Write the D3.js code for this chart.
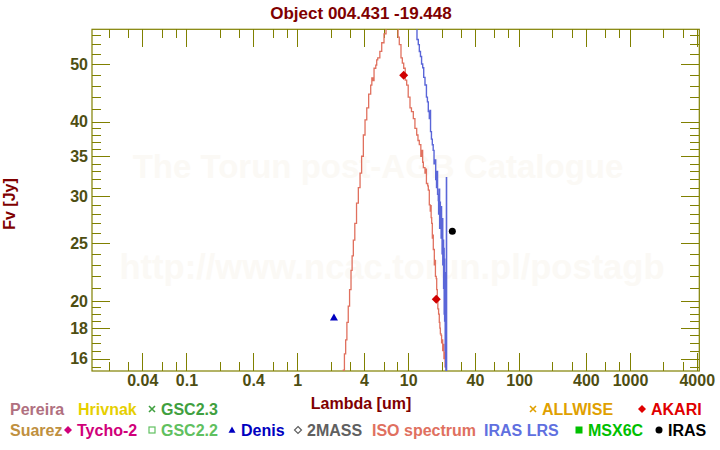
<!DOCTYPE html>
<html>
<head>
<meta charset="utf-8">
<script src="https://cdn.jsdelivr.net/npm/d3@7"></script>
<style>
  body { margin: 0; background: #fff; }
  svg { display: block; font-family: "Liberation Sans", Arial, sans-serif; font-weight: bold; }
</style>
</head>
<body>
<svg id="chart" width="720" height="450"></svg>
<script>
// ---- data ----
const title = "Object 004.431 -19.448";

// ISO spectrum (wavelength um, flux Jy)
const isoWave = [2.50, 2.60, 2.66, 2.73, 2.80, 2.88, 2.96, 3.05, 3.12, 3.20, 3.30, 3.42, 3.55, 3.68, 3.80,
  3.94, 4.08, 4.23, 4.40, 4.59, 4.70, 4.80, 4.92, 5.10, 5.20, 5.31, 5.55, 5.77, 6.05, 6.31, 6.6, 6.9, 7.2, 7.5,
  7.88, 8.1, 8.31, 8.61, 8.85, 9.11, 9.4, 9.69, 10.0, 10.38, 10.7, 11.12, 11.5, 11.93, 12.25, 12.59, 13.0,
  13.2, 13.5, 13.7, 14.17, 14.4, 14.6, 15.0, 15.18, 15.5, 15.8, 16.0, 16.1, 16.29, 16.5, 16.7, 16.84, 17.2,
  17.4, 17.6, 17.9, 18.07, 18.3, 18.5, 18.8, 19.07, 19.3, 19.5, 19.8, 20.0, 20.2, 20.47, 20.8, 21.0, 21.3,
  21.5, 21.8, 22.0, 22.5, 23.0];
const isoFlux = [14.5, 15.3, 16.3, 17.2, 18.4, 19.6, 20.9, 22.5, 23.8, 25.3, 27.0, 29.2, 31.0, 32.8, 35.0,
  38.0, 40.3, 42.2, 44.5, 46.1, 47.4, 46.9, 49.2, 49.8, 50.8, 51.2, 52.5, 54.3, 56.2, 57.8, 58.5, 57.6, 58.8, 57.4,
  57.8, 55.5, 53.9, 51.2, 50.2, 49.2, 47.0, 46.1, 44.0, 42.2, 41.6, 40.5, 39.0, 38.0, 37.2, 36.6, 35.0,
  35.8, 34.2, 33.5, 32.8, 33.3, 31.5, 31.2, 30.7, 29.0, 28.3, 28.9, 27.6, 27.0, 25.5, 25.8, 24.4, 23.0,
  23.4, 22.0, 21.8, 20.9, 20.3, 19.4, 19.0, 18.4, 18.0, 17.6, 17.5, 17.0, 17.2, 16.5, 16.9, 16.0, 16.4,
  15.5, 15.9, 15.0, 15.2, 14.5];

// IRAS LRS spectrum
const lrsWave = [11.0, 11.51, 11.8, 12.0, 12.33, 12.6, 12.9, 13.2, 13.51, 13.8, 14.17, 14.6, 14.9, 15.18,
  15.5, 15.7, 15.9, 16.2, 16.5, 16.8, 17.1, 17.45, 17.7, 18.0, 18.2, 18.4, 18.68, 18.8, 19.0, 19.2, 19.4,
  19.5, 19.8, 19.9, 20.0, 20.2, 20.35, 20.5, 20.73, 20.85, 21.0, 21.1, 21.2, 21.3, 21.47, 21.55, 21.65,
  21.75, 21.85, 21.92, 22.0, 22.1, 22.2];
const lrsFlux = [62.0, 57.5, 58.5, 55.0, 53.9, 52.5, 51.5, 50.0, 49.3, 47.5, 46.1, 44.0, 43.2, 41.6,
  40.5, 41.8, 38.5, 37.4, 36.6, 35.8, 34.0, 34.5, 32.0, 31.0, 33.0, 30.2, 29.5, 28.0, 30.8, 26.5, 29.3,
  27.5, 25.5, 28.8, 26.0, 24.0, 27.5, 23.0, 25.3, 21.0, 24.5, 19.0, 23.5, 18.5, 22.3, 16.5, 21.0,
  15.5, 19.0, 15.0, 17.5, 32.2, 14.0];

// photometry
const denisWave = [2.14], denisFlux = [18.76];
const akariWave = [9.1, 17.9], akariFlux = [47.9, 20.13];
const irasWave = [25.0], irasFlux = [26.18];

// axes
const xMajor = [0.04, 0.1, 0.4, 1, 4, 10, 40, 100, 400, 1000, 4000];
const xMinor = [0.02, 0.03, 0.06, 0.08, 0.2, 0.3, 0.6, 0.8, 2, 3, 6, 8, 20, 30, 60, 80,
  200, 300, 600, 800, 2000, 3000];
const yMajor = [16, 18, 20, 25, 30, 35, 40, 50];
const yMinor = [15.5, 16.5, 17, 17.5, 18.5, 19, 19.5, 21, 22, 23, 24, 26, 27, 28, 29, 31, 32, 33, 34,
  36, 37, 38, 39, 42, 44, 46, 48, 52, 54, 56];

// legend
const legendRow1 = ["Pereira", "Hrivnak", "GSC2.3", "ALLWISE", "AKARI"];
const legendRow2 = ["Suarez", "Tycho-2", "GSC2.2", "Denis", "2MASS", "ISO spectrum", "IRAS LRS", "MSX6C", "IRAS"];

// ---- drawing ----
const svg = d3.select("#chart");
const pL = 92, pR = 699.3, pT = 29.3, pB = 371;
const axisCol = "#808000", tickTxt = "#4e4e12", titleCol = "#800000";

const x = d3.scaleLog().domain([0.01408, 4217]).range([pL, pR]);
const y = d3.scaleLog().domain([15.25, 57.2]).range([pB, pT]);

// watermark
svg.append("text").attr("x", 378).attr("y", 178).attr("text-anchor", "middle")
  .attr("font-size", 33).attr("fill", "#fbf9f5").text("The Torun post-AGB Catalogue");
svg.append("text").attr("x", 392).attr("y", 279).attr("text-anchor", "middle")
  .attr("font-size", 34.5).attr("fill", "#fbf9f5").text("http://www.ncac.torun.pl/postagb");

svg.append("text").attr("x", 361).attr("y", 19).attr("text-anchor", "middle")
  .attr("font-size", 17).attr("fill", titleCol).text(title);

svg.append("text").attr("transform", "translate(15,204) rotate(-90)").attr("text-anchor", "middle")
  .attr("font-size", 16).attr("fill", titleCol).text("Fv [Jy]");

svg.append("text").attr("x", 361).attr("y", 409).attr("text-anchor", "middle")
  .attr("font-size", 16).attr("fill", titleCol).text("Lambda [um]");

// axes
function styleAxis(g) {
  g.select(".domain").remove();
  g.selectAll("line").attr("stroke", axisCol).attr("shape-rendering", "crispEdges");
  g.selectAll("text").attr("fill", tickTxt).attr("font-size", 16)
    .attr("font-family", "'Liberation Sans', Arial, sans-serif").attr("font-weight", "bold");
}
const fmt = d => String(d);

svg.append("g").attr("transform", `translate(0,${pB})`)
  .call(d3.axisBottom(x).tickValues(xMajor).tickSize(-18).tickPadding(4).tickFormat(fmt)).call(styleAxis);
svg.append("g").attr("transform", `translate(0,${pB})`)
  .call(d3.axisBottom(x).tickValues(xMinor).tickSize(-9).tickFormat("")).call(styleAxis);
svg.append("g").attr("transform", `translate(0,${pT})`)
  .call(d3.axisTop(x).tickValues(xMajor).tickSize(-18).tickFormat("")).call(styleAxis);
svg.append("g").attr("transform", `translate(0,${pT})`)
  .call(d3.axisTop(x).tickValues(xMinor).tickSize(-9).tickFormat("")).call(styleAxis);

svg.append("g").attr("transform", `translate(${pL},0)`)
  .call(d3.axisLeft(y).tickValues(yMajor).tickSize(-18).tickPadding(4).tickFormat(fmt)).call(styleAxis);
svg.append("g").attr("transform", `translate(${pL},0)`)
  .call(d3.axisLeft(y).tickValues(yMinor).tickSize(-9).tickFormat("")).call(styleAxis);
svg.append("g").attr("transform", `translate(${pR},0)`)
  .call(d3.axisRight(y).tickValues(yMajor).tickSize(-18).tickFormat("")).call(styleAxis);
svg.append("g").attr("transform", `translate(${pR},0)`)
  .call(d3.axisRight(y).tickValues(yMinor).tickSize(-9).tickFormat("")).call(styleAxis);

svg.append("rect").attr("x", pL).attr("y", pT).attr("width", pR - pL).attr("height", pB - pT)
  .attr("fill", "none").attr("stroke", axisCol).attr("stroke-width", 1.2);

// clip
svg.append("clipPath").attr("id", "plot").append("rect")
  .attr("x", pL).attr("y", pT).attr("width", pR - pL).attr("height", pB - pT);
const plot = svg.append("g").attr("clip-path", "url(#plot)");

const line = d3.line().x(d => x(d[0])).y(d => y(d[1])).curve(d3.curveStepAfter);

plot.append("path").datum(d3.zip(isoWave, isoFlux))
  .attr("d", line).attr("fill", "none").attr("stroke", "#e0705e").attr("stroke-width", 1.3);
plot.append("path").datum(d3.zip(lrsWave, lrsFlux))
  .attr("d", line).attr("fill", "none").attr("stroke", "#5a66d8").attr("stroke-width", 1.4);

const diamond = r => `M0,${-r}L${r},0L0,${r}L${-r},0Z`;
const triangle = r => `M0,${-r}L${r},${r * 0.75}L${-r},${r * 0.75}Z`;

plot.selectAll(".denis").data(d3.zip(denisWave, denisFlux)).join("path")
  .attr("transform", d => `translate(${x(d[0])},${y(d[1])})`).attr("d", triangle(4)).attr("fill", "#0000c0");
plot.selectAll(".akari").data(d3.zip(akariWave, akariFlux)).join("path")
  .attr("transform", d => `translate(${x(d[0])},${y(d[1])})`).attr("d", diamond(4.5)).attr("fill", "#d00000");
plot.selectAll(".iras").data(d3.zip(irasWave, irasFlux)).join("circle")
  .attr("cx", d => x(d[0])).attr("cy", d => y(d[1])).attr("r", 3.5).attr("fill", "#000");

// legend
const legendStyle = {
  "Pereira": { c: "#b07080", x: 10 }, "Hrivnak": { c: "#e6cf00", x: 78 },
  "GSC2.3": { c: "#40a040", x: 161, s: "x" }, "ALLWISE": { c: "#e0a000", x: 542, s: "x" },
  "AKARI": { c: "#e00000", x: 651, s: "d" },
  "Suarez": { c: "#c09040", x: 10 }, "Tycho-2": { c: "#d0007a", x: 77, s: "d" },
  "GSC2.2": { c: "#60c060", x: 161, s: "q" }, "Denis": { c: "#0000c0", x: 241, s: "t" },
  "2MASS": { c: "#606060", x: 307, s: "od" }, "ISO spectrum": { c: "#e07060", x: 372 },
  "IRAS LRS": { c: "#6070e0", x: 484 }, "MSX6C": { c: "#00c000", x: 588, s: "sq" },
  "IRAS": { c: "#000000", x: 668, s: "c" }
};
function drawLegend(names, baseline) {
  names.forEach(n => {
    const st = legendStyle[n];
    svg.append("text").attr("x", st.x).attr("y", baseline).attr("font-size", 16)
      .attr("fill", st.c).text(n);
    if (!st.s) return;
    const cx = st.x - 9, cy = baseline - 6;
    const g = svg.append("g").attr("transform", `translate(${cx},${cy})`);
    if (st.s === "x") g.append("path").attr("d", "M-3,-3L3,3M-3,3L3,-3").attr("stroke", st.c).attr("stroke-width", 1.6);
    if (st.s === "d") g.append("path").attr("d", diamond(4)).attr("fill", st.c);
    if (st.s === "od") g.append("path").attr("d", diamond(3.5)).attr("fill", "none").attr("stroke", st.c).attr("stroke-width", 1.2);
    if (st.s === "q") g.append("rect").attr("x", -3).attr("y", -3).attr("width", 6).attr("height", 6)
      .attr("fill", "none").attr("stroke", st.c).attr("stroke-width", 1.2);
    if (st.s === "sq") g.append("rect").attr("x", -3.5).attr("y", -3.5).attr("width", 7).attr("height", 7).attr("fill", st.c);
    if (st.s === "t") g.append("path").attr("d", triangle(3.5)).attr("fill", st.c);
    if (st.s === "c") g.append("circle").attr("r", 3.5).attr("fill", st.c);
  });
}
drawLegend(legendRow1, 415);
drawLegend(legendRow2, 436);
</script>
</body>
</html>
